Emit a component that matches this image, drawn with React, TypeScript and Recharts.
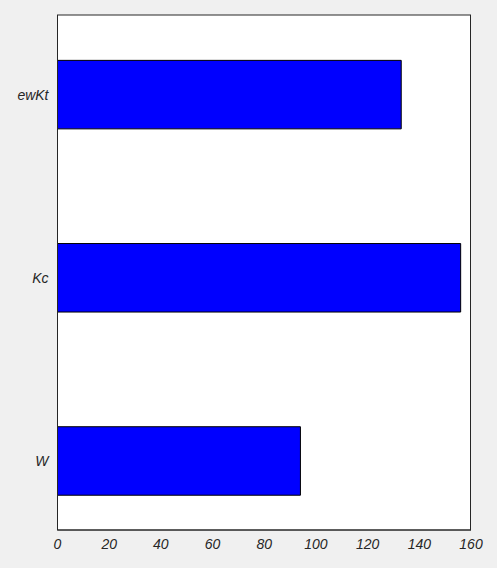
import { Bar, BarChart, XAxis, YAxis } from "recharts";

// top to bottom
const names = ["ewKt", "Kc", "W"];
const values = [133, 156, 94];
const xTicks = [0, 20, 40, 60, 80, 100, 120, 140, 160];

const data = names.map((name, i) => ({ name, pos: i, value: values[i] }));

const tickStyle = { fontFamily: "'Liberation Sans', Arial, sans-serif", fontSize: 14, fontStyle: "italic", fill: "#262626" };
const axisLine = { stroke: "#262626", strokeWidth: 1 };

export default function App() {
  return (
    <div style={{ position: "absolute", left: 0, top: 0, width: 497, height: 568, background: "#f0f0f0" }}>
      <BarChart
        width={497}
        height={568}
        data={data}
        layout="vertical"
        margin={{ top: 15, right: 26, bottom: 0, left: 0 }}
      >
        <rect x={57.5} y={15} width={413} height={515} fill="#fff" />
        <XAxis
          type="number"
          dataKey="value"
          domain={[0, 160]}
          ticks={xTicks}
          allowDataOverflow
          height={38}
          tickLine={false}
          tickSize={0}
          tickMargin={9}
          axisLine={axisLine}
          tick={tickStyle}
        />
        <YAxis
          type="number"
          dataKey="pos"
          domain={[-0.4365, 2.375]}
          ticks={[0, 1, 2]}
          allowDataOverflow
          tickFormatter={(v: number) => names[v] ?? ""}
          width={57.5}
          tickLine={false}
          tickSize={0}
          tickMargin={9}
          axisLine={axisLine}
          tick={tickStyle}
        />
        <Bar dataKey="value" fill="#0000ff" stroke="#000" strokeWidth={1} barSize={68.5} isAnimationActive={false} />
        <rect x={57.5} y={15} width={413} height={515} fill="none" stroke="#262626" strokeWidth={1} />
      </BarChart>
    </div>
  );
}
